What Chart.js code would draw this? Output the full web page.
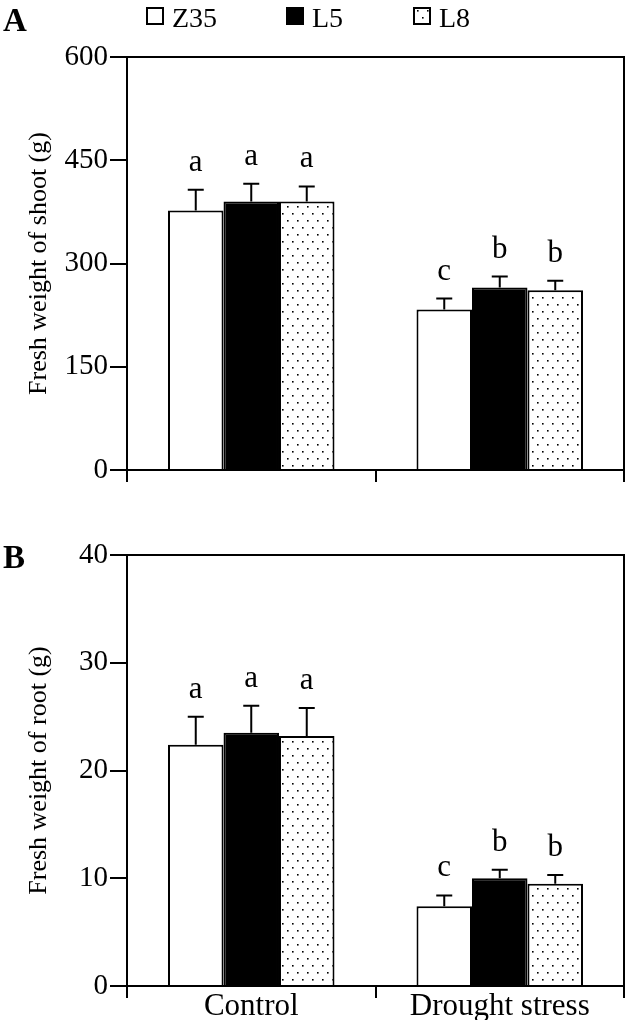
<!DOCTYPE html>
<html>
<head>
<meta charset="utf-8">
<script src="https://cdn.jsdelivr.net/npm/chart.js@4/dist/chart.umd.min.js"></script>
<style>
  html, body { margin: 0; padding: 0; background: #fff; }
  body { width: 627px; height: 1020px; position: relative; overflow: hidden; }
  canvas { position: absolute; left: 0; }
  #shoot { top: 0; }
  #root { top: 500px; }
</style>
</head>
<body>
<canvas id="shoot" width="627" height="500"></canvas>
<canvas id="root" width="627" height="520"></canvas>
<script>
// categories and series
const groups = ['Control', 'Drought stress'];
const seriesNames = ['Z35', 'L5', 'L8'];

// panel A: fresh weight of shoot (g)
const shootZ35 = [377, 233];
const shootL5 = [390, 265];
const shootL8 = [390, 261];
const shootErrZ35 = [30, 16];
const shootErrL5 = [26, 16];
const shootErrL8 = [22, 14];
const shootLetZ35 = ['a', 'c'];
const shootLetL5 = ['a', 'b'];
const shootLetL8 = ['a', 'b'];
const shootTicks = [0, 150, 300, 450, 600];

// panel B: fresh weight of root (g)
const rootZ35 = [22.4, 7.4];
const rootL5 = [23.5, 10.0];
const rootL8 = [23.2, 9.5];
const rootErrZ35 = [2.6, 1.0];
const rootErrL5 = [2.5, 0.8];
const rootErrL8 = [2.6, 0.8];
const rootLetZ35 = ['a', 'c'];
const rootLetL5 = ['a', 'b'];
const rootLetL8 = ['a', 'b'];
const rootTicks = [0, 10, 20, 30, 40];

Chart.defaults.font.family = '"Liberation Serif", "Times New Roman", serif';
Chart.defaults.color = '#000';

// staggered dot fill for L8
const tile = document.createElement('canvas');
tile.width = 10;
tile.height = 14;
const tctx = tile.getContext('2d');
tctx.fillStyle = '#fff';
tctx.fillRect(0, 0, 10, 14);
tctx.fillStyle = '#000';
tctx.fillRect(2, 3, 1.6, 1.6);
tctx.fillRect(7, 10, 1.6, 1.6);
const dots = tctx.createPattern(tile, 'repeat');

const fills = ['#fff', '#000', dots];

const errorBars = {
  id: 'errorBars',
  afterDatasetsDraw(chart) {
    const { ctx } = chart;
    const y = chart.scales.y;
    chart.data.datasets.forEach((ds, i) => {
      chart.getDatasetMeta(i).data.forEach((bar, j) => {
        const top = y.getPixelForValue(ds.data[j] + ds.errors[j]);
        ctx.save();
        ctx.strokeStyle = '#000';
        ctx.lineWidth = 2;
        ctx.beginPath();
        ctx.moveTo(bar.x, bar.y);
        ctx.lineTo(bar.x, top);
        ctx.moveTo(bar.x - 8, top);
        ctx.lineTo(bar.x + 8, top);
        ctx.stroke();
        ctx.fillStyle = '#000';
        ctx.font = '31px "Liberation Serif"';
        ctx.textAlign = 'center';
        ctx.textBaseline = 'alphabetic';
        ctx.fillText(ds.letters[j], bar.x, top - 19);
        ctx.restore();
      });
    });
  }
};

// top and right sides of the box
const frame = {
  id: 'frame',
  afterDraw(chart) {
    const { ctx, chartArea: a } = chart;
    ctx.save();
    ctx.strokeStyle = '#000';
    ctx.lineWidth = 2;
    ctx.beginPath();
    ctx.moveTo(a.left, a.top);
    ctx.lineTo(a.right, a.top);
    ctx.lineTo(a.right, a.bottom);
    ctx.stroke();
    ctx.restore();
  }
};

const panelLabel = {
  id: 'panelLabel',
  afterDraw(chart, args, opts) {
    const { ctx } = chart;
    ctx.save();
    ctx.fillStyle = '#000';
    ctx.font = 'bold 33px "Liberation Serif"';
    ctx.textBaseline = 'alphabetic';
    ctx.fillText(opts.text, 3, opts.y);
    ctx.restore();
  }
};

const boxLegend = {
  id: 'boxLegend',
  afterDraw(chart, args, opts) {
    if (!opts.show) return;
    const { ctx } = chart;
    const xs = [147, 287, 414];
    ctx.save();
    chart.data.datasets.forEach((ds, i) => {
      ctx.fillStyle = ds.backgroundColor;
      ctx.fillRect(xs[i], 8, 16, 16);
      ctx.strokeStyle = '#000';
      ctx.lineWidth = 2;
      ctx.strokeRect(xs[i], 8, 16, 16);
      ctx.fillStyle = '#000';
      ctx.font = '28px "Liberation Serif"';
      ctx.textBaseline = 'alphabetic';
      ctx.fillText(ds.label, xs[i] + 25, 27);
    });
    ctx.restore();
  }
};

function makePanel(id, values, errors, letters, ticks, title, opts) {
  const datasets = seriesNames.map((name, i) => ({
    label: name,
    data: values[i],
    errors: errors[i],
    letters: letters[i],
    backgroundColor: fills[i],
    borderColor: '#000',
    borderWidth: 2,
    categoryPercentage: 0.67,
    barPercentage: 1.0
  }));
  return new Chart(document.getElementById(id), {
    type: 'bar',
    data: { labels: groups, datasets },
    options: {
      responsive: false,
      animation: false,
      devicePixelRatio: 1,
      layout: { padding: { top: opts.top, right: 3, left: 0, bottom: 0 } },
      plugins: {
        legend: { display: false },
        tooltip: { enabled: false },
        panelLabel: { text: opts.letter, y: opts.letterY },
        boxLegend: { show: opts.legend }
      },
      scales: {
        x: {
          afterFit(scale) { scale.height = opts.xHeight; },
          grid: { display: true, drawOnChartArea: false, drawTicks: true, tickLength: 12, color: '#000', lineWidth: 2, offset: true },
          border: { display: true, color: '#000', width: 2 },
          ticks: { display: opts.xLabels, font: { size: 31 }, color: '#000', padding: -10 }
        },
        y: {
          min: ticks[0],
          max: ticks[ticks.length - 1],
          afterFit(scale) { scale.width = 127; },
          afterBuildTicks(scale) { scale.ticks = ticks.map(v => ({ value: v })); },
          grid: { display: true, drawOnChartArea: false, drawTicks: true, tickLength: 17, color: '#000', lineWidth: 2 },
          border: { display: true, color: '#000', width: 2 },
          ticks: { font: { size: 29 }, color: '#000', padding: 2 },
          title: { display: true, text: title, font: { size: 26 }, color: '#000', padding: { top: 24, bottom: 0 } }
        }
      }
    },
    plugins: [errorBars, frame, panelLabel, boxLegend]
  });
}

makePanel('shoot',
  [shootZ35, shootL5, shootL8],
  [shootErrZ35, shootErrL5, shootErrL8],
  [shootLetZ35, shootLetL5, shootLetL8],
  shootTicks, 'Fresh weight of shoot (g)',
  { top: 57, xHeight: 30, xLabels: false, letter: 'A', letterY: 31, legend: true });

makePanel('root',
  [rootZ35, rootL5, rootL8],
  [rootErrZ35, rootErrL5, rootErrL8],
  [rootLetZ35, rootLetL5, rootLetL8],
  rootTicks, 'Fresh weight of root (g)',
  { top: 55, xHeight: 34, xLabels: true, letter: 'B', letterY: 68, legend: false });
</script>
</body>
</html>
